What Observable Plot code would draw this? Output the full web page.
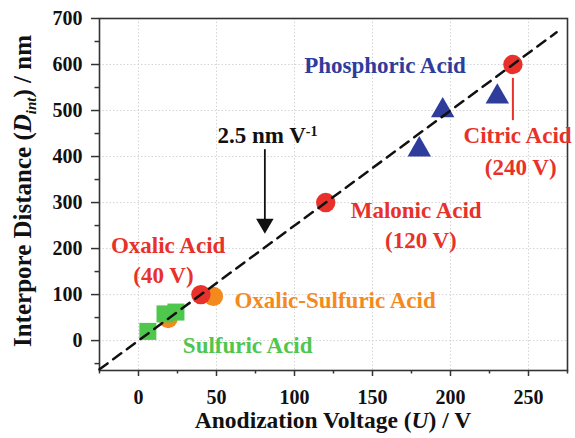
<!DOCTYPE html>
<html><head><meta charset="utf-8">
<script src="https://cdn.jsdelivr.net/npm/d3@7"></script>
<script src="https://cdn.jsdelivr.net/npm/@observablehq/plot@0.6"></script>
<style>
body{margin:0;background:#fff}
svg text{font-family:"Liberation Serif","Times New Roman",serif;font-weight:bold}
</style>
</head><body><div id="chart"></div>
<script>
// ---- data ----
const sulfuricU = [6, 17, 24];
const sulfuricD = [20, 58, 62];
const oxSulfU = [19, 48];
const oxSulfD = [48, 96];
const oxalicU = [40];
const oxalicD = [100];
const malonicU = [120];
const malonicD = [300];
const citricU = [240];
const citricD = [600];
const phosphoricU = [180, 195, 230];
const phosphoricD = [415, 500, 530];
// fitted line, slope 2.5 nm/V (end points)
const fitU = [-25, 268];
const fitD = [-62.5, 670];
// ticks
const xTicks = [0, 50, 100, 150, 200, 250];
const xMinor = [-25, 25, 75, 125, 175, 225, 275];
const yTicks = [0, 100, 200, 300, 400, 500, 600, 700];
const yMinor = [-50, 50, 150, 250, 350, 450, 550, 650];
// annotations
const labelText = ["Phosphoric Acid", "Citric Acid", "(240 V)", "Malonic Acid", "(120 V)", "Oxalic Acid", "(40 V)", "Oxalic-Sulfuric Acid", "Sulfuric Acid"];
const labelU = [158, 243, 245, 178, 181, 19, 16, 126, 70];
const labelD = [598, 446, 376, 282, 217, 207, 141, 87, -11];
const labelKind = ["phos", "red", "red", "red", "red", "red", "red", "oxs", "sulf"];
const slopeLabelU = 83, slopeLabelD = 446;
const arrowU = 81, arrowD1 = 415, arrowD2 = 233, arrowHeadD = 254;
const citricLeaderD = [570, 478];

const colors = {red: "#e8312a", phos: "#2e3c9c", oxs: "#f48a1e", sulf: "#4fc64c"};

const toPts = (us, ds) => us.map((u, i) => ({u, d: ds[i]}));
const labels = labelText.map((t, i) => ({t, u: labelU[i], d: labelD[i], c: colors[labelKind[i]]}));

const chart = Plot.plot({
  width: 575, height: 438,
  marginLeft: 99, marginRight: 8, marginTop: 18, marginBottom: 68,
  x: {domain: [-25, 275]},
  y: {domain: [-65, 700]},
  marks: [
    Plot.gridX(xTicks, {stroke: "#d4d4d4", strokeOpacity: 1, strokeDasharray: "1.5,2"}),
    Plot.gridY(yTicks, {stroke: "#d4d4d4", strokeOpacity: 1, strokeDasharray: "1.5,2"}),
    Plot.axisX(xTicks, {tickSize: 6, tickPadding: 13, fontSize: 20, label: null, stroke: "#333", strokeWidth: 1.5, fill: "#111"}),
    Plot.axisX(xMinor, {tickSize: 3.5, text: null, label: null, stroke: "#333", strokeWidth: 1.5}),
    Plot.axisY(yTicks, {tickSize: 8, tickPadding: 9, fontSize: 20, label: null, stroke: "#333", strokeWidth: 1.5, fill: "#111"}),
    Plot.axisY(yMinor, {tickSize: 4.5, text: null, label: null, stroke: "#333", strokeWidth: 1.5}),
    Plot.frame({stroke: "#333", strokeWidth: 1.6}),
    Plot.ruleX(citricU, {y1: citricLeaderD[0], y2: citricLeaderD[1], stroke: colors.red, strokeWidth: 2}),
    Plot.ruleX([arrowU], {y1: arrowD1, y2: arrowHeadD, stroke: "#111", strokeWidth: 1.8}),
    Plot.dot([{u: arrowU, d: arrowHeadD}], {x: "u", y: "d", symbol: "triangle", rotate: 180, r: 6.5, fill: "#111"}),
    Plot.dot(toPts(oxSulfU, oxSulfD), {x: "u", y: "d", r: 9.7, fill: colors.oxs}),
    Plot.dot(toPts(sulfuricU, sulfuricD), {x: "u", y: "d", r: 9.6, symbol: "square", fill: colors.sulf}),
    Plot.dot(toPts(oxalicU, oxalicD), {x: "u", y: "d", r: 9.7, fill: colors.red}),
    Plot.dot(toPts(malonicU, malonicD), {x: "u", y: "d", r: 9.7, fill: colors.red}),
    Plot.dot(toPts(citricU, citricD), {x: "u", y: "d", r: 9.7, fill: colors.red}),
    Plot.dot(toPts(phosphoricU, phosphoricD), {x: "u", y: "d", r: 8.7, symbol: "triangle", fill: colors.phos}),
    Plot.line(toPts(fitU, fitD), {x: "u", y: "d", stroke: "#111", strokeWidth: 2.5, strokeDasharray: "10,7"}),
    Plot.text(labels, {x: "u", y: "d", text: "t", fill: "c", fontSize: 23, fontWeight: "bold", textAnchor: "middle"})
  ]
});
document.getElementById("chart").appendChild(chart);

const svg = d3.select(chart);
const sx = chart.scale("x"), sy = chart.scale("y");
// slope annotation with superscript
const st = svg.append("text")
  .attr("x", sx.apply(slopeLabelU)).attr("y", sy.apply(slopeLabelD))
  .attr("text-anchor", "middle").attr("font-size", 23).attr("fill", "#111");
st.append("tspan").attr("dy", "0.35em").text("2.5 nm V");
st.append("tspan").attr("dy", "-0.5em").attr("font-size", 14).text("-1");

// x title
const xt = svg.append("text").attr("x", (99 + 567) / 2).attr("y", 428)
  .attr("text-anchor", "middle").attr("font-size", 23.5).attr("fill", "#111");
xt.append("tspan").text("Anodization Voltage (");
xt.append("tspan").attr("font-style", "italic").text("U");
xt.append("tspan").text(") / V");

// y title
const yt = svg.append("text").attr("transform", "translate(31,191) rotate(-90)")
  .attr("text-anchor", "middle").attr("font-size", 25).attr("fill", "#111");
yt.append("tspan").text("Interpore Distance (");
yt.append("tspan").attr("font-style", "italic").text("D");
yt.append("tspan").attr("font-style", "italic").attr("font-size", 15).attr("dy", 5).text("int");
yt.append("tspan").attr("dy", -5).text(") / nm");
</script>
</body></html>
